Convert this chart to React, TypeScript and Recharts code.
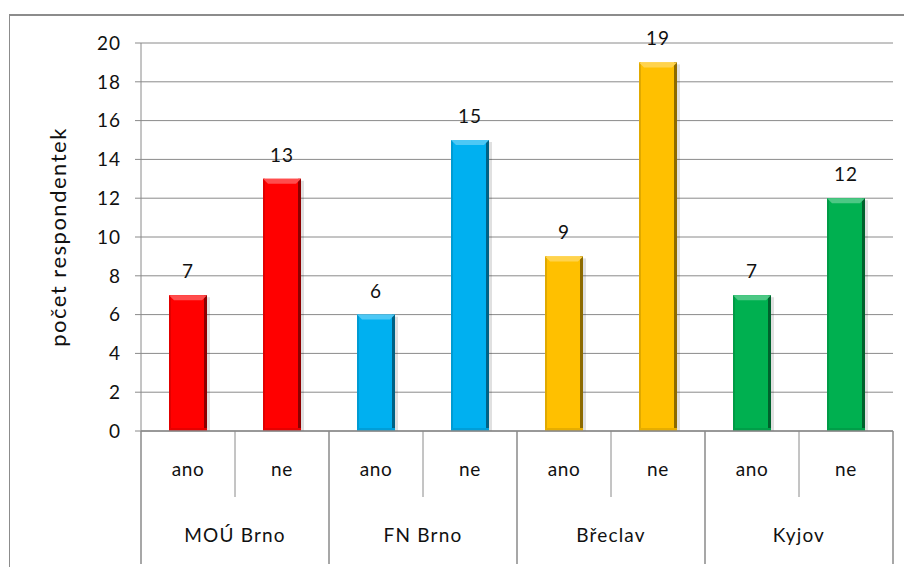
import React from 'react';
import { BarChart, Bar, XAxis, YAxis, CartesianGrid, Cell, LabelList } from 'recharts';

// Survey answers grouped by hospital
const groupNames = ['MOÚ Brno', 'FN Brno', 'Břeclav', 'Kyjov'];
const answers = ['ano', 'ne', 'ano', 'ne', 'ano', 'ne', 'ano', 'ne'];
const counts = [7, 13, 6, 15, 9, 19, 7, 12];
const groupColors = ['#FF0000', '#00B0F0', '#FFC000', '#00B050'];
const yTicks = [0, 2, 4, 6, 8, 10, 12, 14, 16, 18, 20];

const data = answers.map((a, i) => ({
  key: `${groupNames[Math.floor(i / 2)]}-${a}`,
  answer: a,
  group: groupNames[Math.floor(i / 2)],
  count: counts[i],
  color: groupColors[Math.floor(i / 2)],
}));

const W = 904;
const H = 567;
const MARGIN = { top: 43, right: 11, bottom: 0, left: 0 };
const Y_AXIS_W = 141;
const X_AXIS_H = 136;
const PLOT_W = W - MARGIN.left - MARGIN.right - Y_AXIS_W;
const BAND = PLOT_W / data.length;
const AXIS_GREY = '#8a8a8a';
const FONT = 'Lato, "Open Sans", sans-serif';
const TEXT = '#111';

function shade(hex: string, f: number) {
  const n = parseInt(hex.slice(1), 16);
  const ch = [(n >> 16) & 255, (n >> 8) & 255, n & 255].map((c) =>
    f < 0 ? Math.round(c * (1 + f)) : Math.round(c + (255 - c) * f)
  );
  return `rgb(${ch[0]},${ch[1]},${ch[2]})`;
}

// Bevelled bar: light top edge, dark right edge and a soft shadow
function BevelBar(props: any) {
  const { x, y, width, height, fill } = props;
  if (!height || height <= 0) return null;
  const b = 5;
  return (
    <g>
      <rect x={x + 3} y={y + 2} width={width} height={height - 2} fill="rgba(0,0,0,0.12)" />
      <rect x={x} y={y} width={width} height={height} fill={fill} />
      <rect x={x} y={y} width={2} height={height} fill={shade(fill, -0.12)} />
      <rect x={x + width - 3} y={y} width={3} height={height} fill={shade(fill, -0.45)} />
      <polygon
        points={`${x},${y} ${x + width},${y} ${x + width - b},${y + b} ${x + b},${y + b}`}
        fill={shade(fill, 0.3)}
      />
      <rect x={x} y={y + height - 3} width={width} height={3} fill={shade(fill, -0.1)} />
    </g>
  );
}

// Two-level category axis: answer label, group label and separators
function CategoryTick(props: any) {
  const { x, y, payload } = props;
  const i = payload.index;
  const top = y - 8;
  const half = BAND / 2;
  const items: React.ReactNode[] = [];
  if (i === 0) {
    items.push(<line key="l0" x1={x - half} y1={top} x2={x - half} y2={top + 133} stroke={AXIS_GREY} strokeWidth={1.5} />);
  }
  const groupEnd = i % 2 === 1;
  items.push(
    <line
      key="r"
      x1={x + half}
      y1={top}
      x2={x + half}
      y2={groupEnd ? top + 133 : top + 66}
      stroke={AXIS_GREY}
      strokeWidth={groupEnd ? 1.5 : 1}
    />
  );
  items.push(
    <text key="a" x={x} y={top + 45} textAnchor="middle" fontSize={19} letterSpacing={0.6} fontFamily={FONT} fill={TEXT}>
      {payload.value}
    </text>
  );
  if (!groupEnd) {
    items.push(
      <text key="g" x={x + half} y={top + 111} textAnchor="middle" fontSize={19} letterSpacing={1.2} fontFamily={FONT} fill={TEXT}>
        {data[i].group}
      </text>
    );
  }
  return <g>{items}</g>;
}

export default function App() {
  return (
    <div style={{ position: 'absolute', left: 0, top: 0, width: W, height: H, overflow: 'hidden', background: '#fff' }}>
      <div
        style={{
          position: 'absolute',
          left: 9,
          top: 14,
          width: 1000,
          height: 700,
          borderTop: '2px solid #8c8c8c',
          borderLeft: '1px solid #8c8c8c',
        }}
      />
      <div style={{ position: 'absolute', left: 0, top: 0 }}>
        <BarChart width={W} height={H} data={data} margin={MARGIN} barCategoryGap="0%">
          <CartesianGrid vertical={false} stroke={AXIS_GREY} strokeWidth={1} />
          <XAxis
            dataKey="answer"
            interval={0}
            height={X_AXIS_H}
            tickLine={false}
            axisLine={{ stroke: AXIS_GREY, strokeWidth: 1.5 }}
            tick={<CategoryTick />}
          />
          <YAxis
            width={Y_AXIS_W}
            domain={[0, 20]}
            ticks={yTicks}
            interval={0}
            tickSize={6}
            tickMargin={14}
            axisLine={{ stroke: AXIS_GREY }}
            tickLine={{ stroke: AXIS_GREY }}
            tick={{ fill: TEXT, fontSize: 19, fontFamily: FONT, letterSpacing: 1 }}
            label={{
              value: 'počet respondentek',
              angle: -90,
              position: 'insideLeft',
              offset: 58,
              style: { fill: TEXT, fontSize: 22, fontFamily: FONT, textAnchor: 'middle', letterSpacing: 1.5 },
            }}
          />
          <Bar dataKey="count" barSize={38} isAnimationActive={false} shape={<BevelBar />}>
            {data.map((d) => (
              <Cell key={d.key} fill={d.color} />
            ))}
            <LabelList dataKey="count" position="top" offset={17} fill={TEXT} fontSize={19} fontFamily={FONT} letterSpacing={1} />
          </Bar>
        </BarChart>
      </div>
    </div>
  );
}
